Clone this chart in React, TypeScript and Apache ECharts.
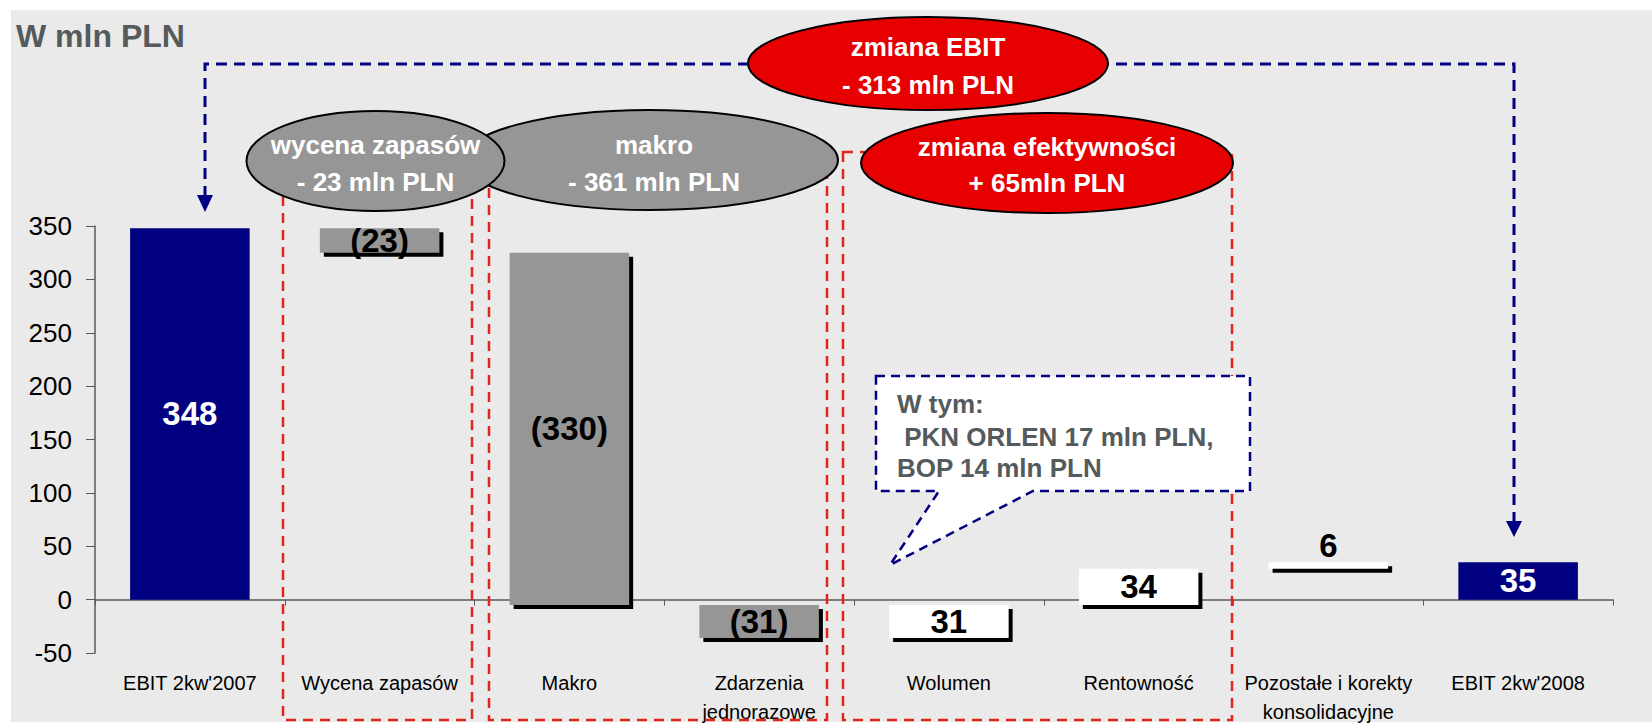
import React, { useEffect, useRef } from "react";
import * as echarts from "echarts";

// ---- data ----
const categories = [
  "EBIT 2kw'2007",
  "Wycena zapasów",
  "Makro",
  "Zdarzenia\njednorazowe",
  "Wolumen",
  "Rentowność",
  "Pozostałe i korekty\nkonsolidacyjne",
  "EBIT 2kw'2008",
];
const changes = [348, -23, -330, -31, 31, 34, 6, 35];
const barKinds = ["total", "down", "down", "down", "up", "up", "up", "total"];
const barLabels = ["348", "(23)", "(330)", "(31)", "31", "34", "6", "35"];
const yMin = -50;
const yMax = 350;
const yStep = 50;

const FONT = "'Liberation Sans', Arial, Helvetica, sans-serif";

// waterfall spans built from the changes
const spans: number[][] = [];
{
  let running = 0;
  changes.forEach((c, i) => {
    if (barKinds[i] === "total") {
      spans.push([i, 0, c]);
      running = c;
    } else {
      spans.push([i, running, running + c]);
      running = running + c;
    }
  });
}

const fills: Record<string, string> = { total: "#000080", down: "#969696", up: "#FFFFFF" };

function renderItem(params: any, api: any) {
  const idx = api.value(0);
  const lo = api.value(1);
  const hi = api.value(2);
  const kind = barKinds[idx];
  const top = api.coord([idx, Math.max(lo, hi)]);
  const bot = api.coord([idx, Math.min(lo, hi)]);
  const bw = api.size([1, 0])[0] * 0.63;
  const x = top[0] - bw / 2;
  const y = top[1];
  const h = Math.max(bot[1] - top[1], 1);
  const children: any[] = [];
  if (kind !== "total") {
    children.push({ type: "rect", shape: { x: x + 4, y: y + 4, width: bw, height: h }, style: { fill: "#000000" } });
  }
  children.push({ type: "rect", shape: { x, y, width: bw, height: h }, style: { fill: fills[kind] } });
  const above = h < 15;
  children.push({
    type: "text",
    x: top[0],
    y: above ? y - 17 : y + h / 2,
    style: {
      text: barLabels[idx],
      fill: kind === "total" ? "#FFFFFF" : "#000000",
      font: `bold 33px ${FONT}`,
      align: "center",
      verticalAlign: "middle",
      textAlign: "center",
      textVerticalAlign: "middle",
    },
  });
  return { type: "group", children };
}

function txt(text: string, x: number, y: number, size: number, color: string, align = "center", z = 100) {
  return {
    type: "text",
    x,
    y,
    z,
    style: {
      text,
      fill: color,
      font: `bold ${size}px ${FONT}`,
      align,
      verticalAlign: "middle",
      textAlign: align,
      textVerticalAlign: "middle",
    },
  };
}

function ellipse(cx: number, cy: number, rx: number, ry: number, fill: string, z: number) {
  return {
    type: "ellipse",
    z,
    shape: { cx, cy, rx, ry },
    style: { fill, stroke: "#000000", lineWidth: 2 },
  };
}

function redBox(x1: number, x2: number, y1: number, y2: number) {
  return {
    type: "rect",
    z: 40,
    shape: { x: x1, y: y1, width: x2 - x1, height: y2 - y1 },
    style: { fill: "none", stroke: "#E0261A", lineWidth: 2.5, lineDash: [10, 7] },
  };
}

const graphics: any[] = [
  { type: "rect", z: -100, shape: { x: 11, y: 10, width: 1641, height: 712 }, style: { fill: "#EAEAEA" } },
  txt("W mln PLN", 16, 36, 32, "#555A5C", "left"),
  redBox(283, 472, 150, 720),
  redBox(489, 827, 150, 720),
  redBox(843, 1232, 152, 720),
  {
    type: "polyline",
    z: 45,
    shape: { points: [[205, 197], [205, 64], [1514, 64], [1514, 522]] },
    style: { fill: "none", stroke: "#000080", lineWidth: 3, lineDash: [11, 7] },
  },
  { type: "polygon", z: 45, shape: { points: [[197, 195], [213, 195], [205, 212]] }, style: { fill: "#000080" } },
  { type: "polygon", z: 45, shape: { points: [[1506, 521], [1522, 521], [1514, 537]] }, style: { fill: "#000080" } },
  ellipse(650, 160, 188, 50, "#969696", 60),
  txt("makro", 654, 145, 26, "#FFFFFF"),
  txt("- 361 mln PLN", 654, 182, 26, "#FFFFFF"),
  ellipse(375.5, 161, 129, 50, "#969696", 70),
  txt("wycena zapasów", 375.5, 145, 26, "#FFFFFF"),
  txt("- 23 mln PLN", 375.5, 182, 26, "#FFFFFF"),
  ellipse(928, 63.5, 180, 46.5, "#E60000", 70),
  txt("zmiana EBIT", 928, 47, 26, "#FFFFFF"),
  txt("- 313 mln PLN", 928, 85, 26, "#FFFFFF"),
  ellipse(1047, 163, 186, 50, "#E60000", 70),
  txt("zmiana efektywności", 1047, 147, 26, "#FFFFFF"),
  txt("+ 65mln PLN", 1047, 183, 26, "#FFFFFF"),
  {
    type: "polygon",
    z: 80,
    shape: {
      points: [[876, 376], [1250, 376], [1250, 491], [1033, 491], [890, 565], [939, 491], [876, 491]],
    },
    style: { fill: "#FFFFFF", stroke: "#000080", lineWidth: 2.5, lineDash: [9, 6] },
  },
  txt("W tym:", 897, 404, 26, "#555A5C", "left"),
  txt(" PKN ORLEN 17 mln PLN,", 897, 437, 26, "#555A5C", "left"),
  txt("BOP 14 mln PLN", 897, 468, 26, "#555A5C", "left"),
];

const option: any = {
  animation: false,
  backgroundColor: "#FFFFFF",
  textStyle: { fontFamily: FONT },
  grid: { left: 95, right: 39, top: 226, bottom: 67, containLabel: false },
  xAxis: [
    {
      type: "category",
      data: categories,
      position: "bottom",
      boundaryGap: true,
      axisLine: { show: false, onZero: false },
      axisTick: { show: false },
      splitLine: { show: false },
      axisLabel: { fontSize: 20, color: "#000000", margin: 15, lineHeight: 29, interval: 0, fontFamily: FONT },
    },
    {
      type: "category",
      data: categories,
      position: "bottom",
      boundaryGap: true,
      axisLine: { show: true, onZero: true, lineStyle: { color: "#5A5A5A", width: 1.5 } },
      axisTick: { show: true, length: 6, interval: 0, lineStyle: { color: "#5A5A5A" } },
      axisLabel: { show: false },
      splitLine: { show: false },
    },
  ],
  yAxis: {
    type: "value",
    min: yMin,
    max: yMax,
    interval: yStep,
    axisLine: { show: true, lineStyle: { color: "#5A5A5A", width: 1.5 } },
    axisTick: { show: true, length: 9, lineStyle: { color: "#5A5A5A" } },
    splitLine: { show: false },
    axisLabel: { fontSize: 26, color: "#000000", margin: 23, fontFamily: FONT },
  },
  series: [
    {
      type: "custom",
      xAxisIndex: 0,
      yAxisIndex: 0,
      renderItem,
      encode: { x: 0, y: [1, 2] },
      data: spans,
      z: 10,
    },
  ],
  graphic: { elements: graphics },
};

export default function App() {
  const ref = useRef<HTMLDivElement>(null);
  useEffect(() => {
    if (!ref.current) return;
    const chart = echarts.init(ref.current, null, { renderer: "svg" });
    chart.setOption(option);
    return () => chart.dispose();
  }, []);
  return <div ref={ref} style={{ position: "fixed", left: 0, top: 0, width: 1652, height: 726 }} />;
}
